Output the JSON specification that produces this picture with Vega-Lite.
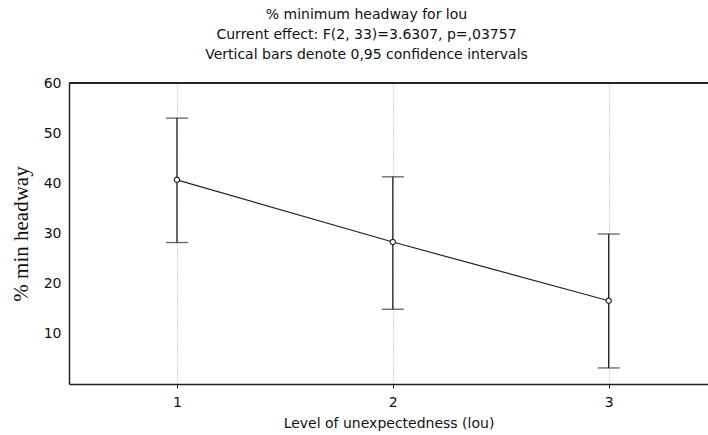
{
  "$schema": "https://vega.github.io/schema/vega-lite/v6.json",
  "autosize": "none",
  "width": 639,
  "height": 301,
  "padding": {"left": 69, "top": 83, "right": 0, "bottom": 51},
  "background": "white",
  "config": {
    "view": {"stroke": null},
    "font": "DejaVu Sans",
    "axis": {"labelFont": "DejaVu Sans", "labelColor": "#111", "labelFontSize": 14, "gridColor": "#aaaaaa", "gridDash": [1, 2], "gridWidth": 1, "domainColor": "#222", "domainWidth": 1.5, "tickColor": "#222"}
  },
  "title": {
    "text": ["% minimum headway for lou", "Current effect: F(2, 33)=3.6307, p=,03757", "Vertical bars denote 0,95 confidence intervals"],
    "anchor": "middle",
    "fontSize": 14,
    "fontWeight": "normal",
    "font": "DejaVu Sans",
    "color": "#111",
    "lineHeight": 20,
    "offset": 14,
    "dx": -22
  },
  "data": {
    "values": [
      {"lou": 1, "mean": 40.7, "lo": 28.2, "hi": 53.0},
      {"lou": 2, "mean": 28.3, "lo": 14.9, "hi": 41.3},
      {"lou": 3, "mean": 16.6, "lo": 3.2, "hi": 29.9}
    ]
  },
  "encoding": {
    "x": {
      "field": "lou", "type": "quantitative",
      "scale": {"domain": [0.5, 3.46], "nice": false, "zero": false},
      "axis": {"values": [1, 2, 3], "title": "Level of unexpectedness (lou)", "titleFont": "DejaVu Sans", "titleFontSize": 14, "titleFontWeight": "normal", "titleColor": "#111", "titlePadding": 7, "labelPadding": 7, "tickSize": 4, "format": "d"}
    }
  },
  "layer": [
    {
      "mark": {"type": "rule", "color": "#222", "strokeWidth": 1.5},
      "encoding": {"y": {"datum": 60}, "x": null}
    },
    {
      "mark": {"type": "rule", "color": "#222", "strokeWidth": 1.3},
      "encoding": {
        "y": {"field": "lo", "type": "quantitative", "scale": {"domain": [0, 60], "nice": false},
          "axis": {"values": [10, 20, 30, 40, 50, 60], "title": "% min headway", "titleFont": "Liberation Serif", "titleFontSize": 21, "titleFontWeight": "normal", "titleColor": "#111", "titlePadding": 12, "ticks": false, "labelPadding": 8}},
        "y2": {"field": "hi"}
      }
    },
    {
      "mark": {"type": "tick", "orient": "horizontal", "color": "#222", "size": 22, "thickness": 1.3},
      "encoding": {"y": {"field": "lo", "type": "quantitative"}}
    },
    {
      "mark": {"type": "tick", "orient": "horizontal", "color": "#222", "size": 22, "thickness": 1.3},
      "encoding": {"y": {"field": "hi", "type": "quantitative"}}
    },
    {
      "mark": {"type": "line", "color": "#222", "strokeWidth": 1.2},
      "encoding": {"y": {"field": "mean", "type": "quantitative"}}
    },
    {
      "mark": {"type": "point", "shape": "circle", "filled": true, "fill": "white", "stroke": "#222", "strokeWidth": 1.2, "size": 28, "opacity": 1},
      "encoding": {"y": {"field": "mean", "type": "quantitative"}}
    }
  ]
}
